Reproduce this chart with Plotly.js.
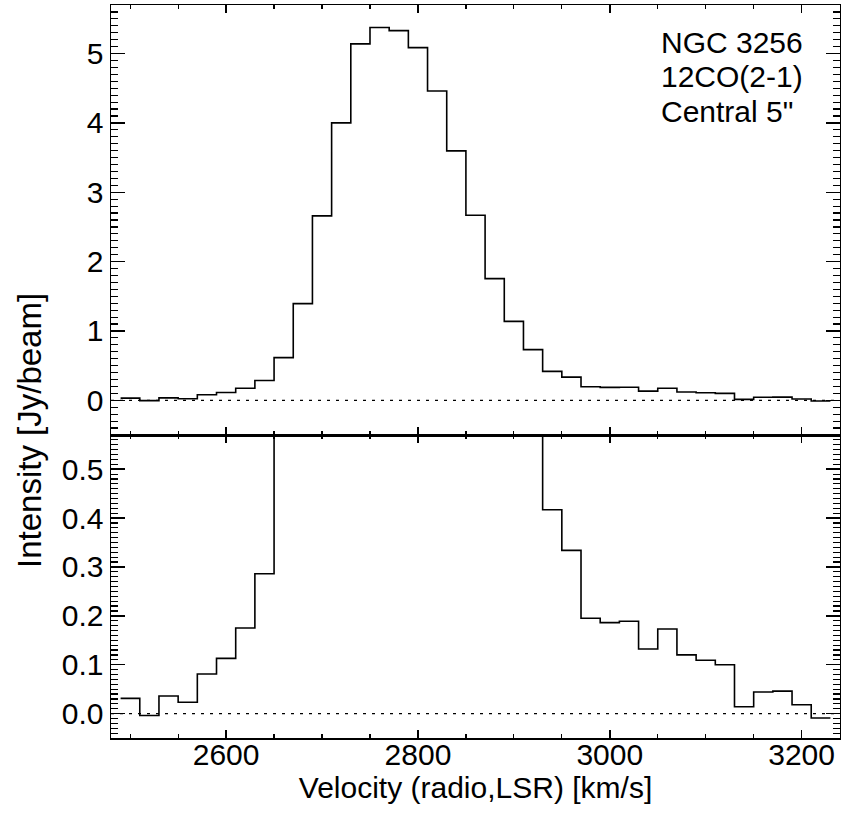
<!DOCTYPE html>
<html><head><meta charset="utf-8">
<script src="https://cdn.plot.ly/plotly-3.0.1.min.js"></script>
<style>html,body{margin:0;padding:0;background:#fff}</style>
</head><body>
<div id="chart" style="width:841px;height:819px"></div>
<script>
// Channel velocities (bin centres, km/s)
const velocity = [2500,2520,2540,2560,2580,2600,2620,2640,2660,2680,2700,2720,2740,2760,2780,2800,2820,2840,2860,2880,2900,2920,2940,2960,2980,3000,3020,3040,3060,3080,3100,3120,3140,3160,3180,3200,3220];
// Intensity (Jy/beam)
const intensity = [0.031,-0.004,0.036,0.023,0.081,0.113,0.175,0.286,0.615,1.394,2.659,4.00,5.14,5.375,5.33,5.085,4.46,3.597,2.668,1.755,1.139,0.731,0.417,0.334,0.195,0.186,0.189,0.132,0.173,0.120,0.109,0.100,0.014,0.044,0.046,0.018,-0.009];
const topTicks = [0,1,2,3,4,5];
const bottomTicks = [0.0,0.1,0.2,0.3,0.4,0.5];
const xTicks = [2600,2800,3000,3200];
const labelLines = ["NGC 3256","12CO(2-1)",'Central 5"'];
const xTitle = "Velocity (radio,LSR) [km/s]";
const yTitle = "Intensity [Jy/beam]";

// step (histogram) coordinates from bin centres
const half = (velocity[1]-velocity[0])/2;
const stepX = velocity.map(v => v - half).concat([velocity[velocity.length-1] + half]);
const stepY = intensity.concat([intensity[intensity.length-1]]);

const FONT = {family:'"Liberation Sans", Arial, Helvetica, sans-serif', size:30, color:'#000'};
const W=841, H=819, L=111, R=1, T=5, B=81;
const PW = W-L-R, PH = H-T-B;
const junction = 435;
const split = (H-B-junction)/PH;
const px2x = p => (p-L)/PW;
const py2y = p => (H-B-p)/PH;

const lineStyle = {color:'#000', width:1.6, shape:'hv'};
const traces = [
  {x:stepX, y:stepY, xaxis:'x', yaxis:'y', mode:'lines', line:lineStyle, hoverinfo:'skip', showlegend:false},
  {x:stepX, y:stepY, xaxis:'x2', yaxis:'y2', mode:'lines', line:lineStyle, hoverinfo:'skip', showlegend:false}
];

const axBase = {showgrid:false, zeroline:false, showline:true, linecolor:'#000', linewidth:1.5,
  ticks:'inside', tickcolor:'#000', tickwidth:1.5, mirror:'allticks', tickfont:FONT};
const minorX = {dtick:(xTicks[1]-xTicks[0])/4, ticklen:4, tickwidth:1.2, tickcolor:'#000', ticks:'inside', showgrid:false};

const layout = {
  width:W, height:H, margin:{l:L, r:R, t:T, b:B},
  paper_bgcolor:'#fff', plot_bgcolor:'#fff', font:FONT, showlegend:false,
  xaxis: Object.assign({}, axBase, {anchor:'y', domain:[0,1], range:[2480,3240],
    tickmode:'linear', tick0:xTicks[0], dtick:xTicks[1]-xTicks[0], ticklen:8, ticklabelstandoff:-11,
    minor:minorX, title:{text:xTitle, font:FONT, standoff:2}}),
  xaxis2: Object.assign({}, axBase, {anchor:'y2', domain:[0,1], range:[2480,3240], matches:'x',
    showticklabels:false, tickmode:'linear', tick0:xTicks[0], dtick:xTicks[1]-xTicks[0], ticklen:8,
    minor:minorX}),
  yaxis: Object.assign({}, axBase, {anchor:'x', domain:[0, split], range:[-0.05,0.57],
    tickmode:'linear', tick0:bottomTicks[0], dtick:0.1, tickformat:'.1f', ticklen:14,
    minor:{dtick:0.01, ticklen:7, tickwidth:1.2, tickcolor:'#000', ticks:'inside', showgrid:false}}),
  yaxis2: Object.assign({}, axBase, {anchor:'x2', domain:[split,1], range:[-0.5,5.7],
    tickmode:'linear', tick0:topTicks[0], dtick:topTicks[1]-topTicks[0], ticklen:14,
    minor:{dtick:0.1, ticklen:7, tickwidth:1.2, tickcolor:'#000', ticks:'inside', showgrid:false}}),
  shapes:[
    {type:'line', xref:'x domain', yref:'y', x0:0, x1:1, y0:0, y1:0, line:{color:'#000', width:1.2, dash:'3px,6px'}},
    {type:'line', xref:'x2 domain', yref:'y2', x0:0, x1:1, y0:0, y1:0, line:{color:'#000', width:1.2, dash:'3px,6px'}}
  ],
  annotations: [
    {xref:'paper', yref:'paper', x:px2x(659), y:py2y(42.5), xanchor:'left', yanchor:'middle', text:labelLines[0], showarrow:false, font:FONT},
    {xref:'paper', yref:'paper', x:px2x(659), y:py2y(76.8), xanchor:'left', yanchor:'middle', text:labelLines[1], showarrow:false, font:FONT},
    {xref:'paper', yref:'paper', x:px2x(659), y:py2y(111), xanchor:'left', yanchor:'middle', text:labelLines[2], showarrow:false, font:FONT},
    {xref:'paper', yref:'paper', x:px2x(29), y:py2y(431), xanchor:'center', yanchor:'middle', textangle:-90, text:yTitle, showarrow:false, font:Object.assign({}, FONT, {size:33})}
  ]
};
Plotly.newPlot('chart', traces, layout, {staticPlot:true, displayModeBar:false});
</script>
</body></html>
